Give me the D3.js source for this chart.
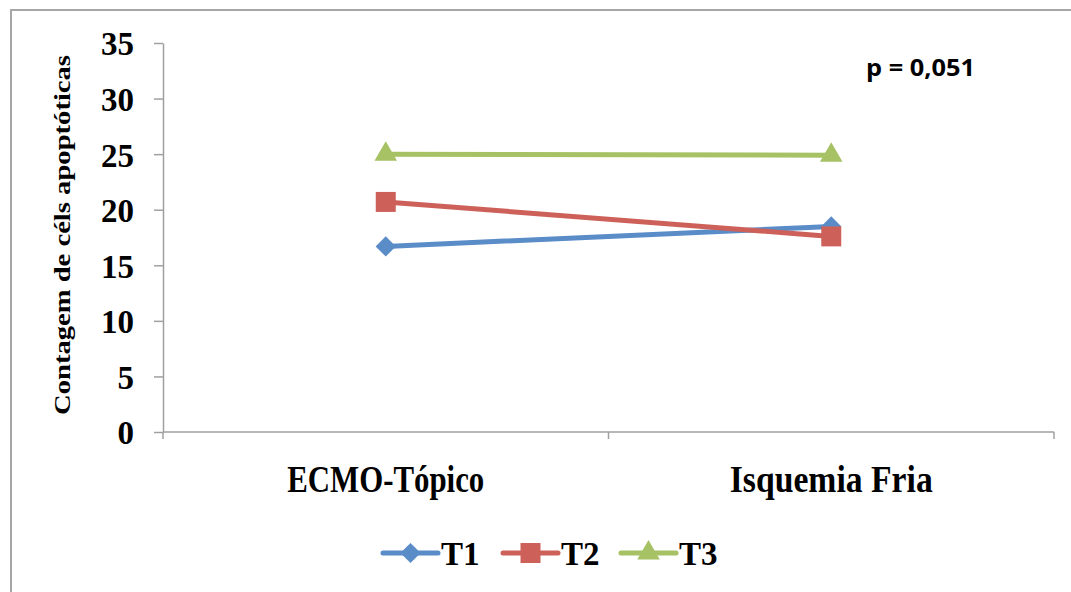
<!DOCTYPE html>
<html>
<head>
<meta charset="utf-8">
<script src="https://cdn.jsdelivr.net/npm/d3@7"></script>
<style>
  body { margin: 0; background: #fff; }
  svg { display: block; }
</style>
</head>
<body>
<svg></svg>
<script>
var categories = ["ECMO-Tópico", "Isquemia Fria"]
var seriesNames = ["T1", "T2", "T3"]
var t1 = [16.7, 18.5]
var t2 = [20.7, 17.6]
var t3 = [25.0, 24.9]
var yTicks = [0, 5, 10, 15, 20, 25, 30, 35]
var colors = ["#5A8CC8", "#CD615A", "#A6C265"]

var width = 1071, height = 592
var margins = {"left": 163, "right": 17, "top": 43, "bottom": 160}

var svg = d3.select("svg").attr("width", width).attr("height", height)

// chart border (cut off on right and bottom like the original)
svg.append("rect")
  .attr("x", 11).attr("y", 10)
  .attr("width", 1100).attr("height", 620)
  .attr("fill", "none").attr("stroke", "#A6A6A6").attr("stroke-width", 2)

var x = d3.scaleBand()
  .domain(categories)
  .range([margins.left, width - margins.right])

var y = d3.scaleLinear()
  .domain([0, 35])
  .range([height - margins.bottom, margins.top])

var font = "'Liberation Serif', 'DejaVu Serif', serif"

// marker shapes: diamond is a rotated square
function marker(k, sel){
  if (k === 0) {
    sel.attr("d", d3.symbol().type(d3.symbolSquare).size(205)())
  } else if (k === 1) {
    sel.attr("d", d3.symbol().type(d3.symbolSquare).size(400)())
  } else {
    sel.attr("d", d3.symbol().type(d3.symbolTriangle).size(220)())
  }
}

// y axis
var yAxis = svg.append("g")
  .attr("transform", "translate(" + margins.left + ",0)")
  .call(d3.axisLeft(y).tickValues(yTicks).tickSize(9).tickSizeOuter(0))
yAxis.select(".domain").attr("stroke", "#A0A0A0").attr("stroke-width", 1.5)
yAxis.selectAll(".tick line").attr("stroke", "#A0A0A0").attr("stroke-width", 1.5)
yAxis.selectAll(".tick text")
  .attr("x", -29)
  .attr("dy", "0.36em")
  .attr("font-family", font).attr("font-weight", "bold")
  .attr("font-size", "33px").attr("fill", "#000")

// x axis
var xAxisG = svg.append("g")
  .attr("transform", "translate(0," + y(0) + ")")
xAxisG.append("line")
  .attr("x1", margins.left).attr("x2", width - margins.right)
  .attr("stroke", "#A0A0A0").attr("stroke-width", 1.5)
var bounds = [margins.left].concat(categories.map(function(c){ return x(c) + x.bandwidth() }))
xAxisG.selectAll(".xtick")
  .data(bounds)
  .enter()
  .append("line")
  .attr("x1", function(d){ return d }).attr("x2", function(d){ return d })
  .attr("y1", 0).attr("y2", 7)
  .attr("stroke", "#A0A0A0").attr("stroke-width", 1.5)
var labelLen = [197, 203]
xAxisG.selectAll(".xlabel")
  .data(categories)
  .enter()
  .append("text")
  .attr("x", function(d){ return x(d) + x.bandwidth() / 2 })
  .attr("y", 60)
  .attr("text-anchor", "middle")
  .attr("font-family", font).attr("font-weight", "bold")
  .attr("font-size", "38px")
  .attr("textLength", function(d, i){ return labelLen[i] })
  .attr("lengthAdjust", "spacingAndGlyphs")
  .text(function(d){ return d })

// y title
svg.append("text")
  .attr("transform", "translate(70,235) rotate(-90)")
  .attr("text-anchor", "middle")
  .attr("font-family", font).attr("font-weight", "bold")
  .attr("font-size", "23px")
  .attr("textLength", 360)
  .attr("lengthAdjust", "spacingAndGlyphs")
  .text("Contagem de céls apoptóticas")

// p value
svg.append("text")
  .attr("x", 866).attr("y", 76)
  .attr("font-family", "'Open Sans', 'DejaVu Sans', sans-serif")
  .attr("font-weight", "bold").attr("font-size", "23px")
  .attr("textLength", 109)
  .attr("lengthAdjust", "spacingAndGlyphs")
  .text("p = 0,051")

var series = [t1, t2, t3]
var line = d3.line()
  .x(function(d, i){ return x(categories[i]) + x.bandwidth() / 2 })
  .y(function(d){ return y(d) })

series.forEach(function(s, k){
  var g = svg.append("g")
  g.append("path")
    .attr("d", line(s))
    .attr("fill", "none")
    .attr("stroke", colors[k])
    .attr("stroke-width", 5)
    .attr("stroke-linecap", "round")
  g.selectAll("path.m")
    .data(s)
    .enter()
    .append("path")
    .attr("class", "m")
    .call(function(sel){ marker(k, sel) })
    .attr("transform", function(d, i){
      return "translate(" + (x(categories[i]) + x.bandwidth() / 2) + "," + y(d) + ") rotate(" + (k === 0 ? 45 : 0) + ")"
    })
    .attr("fill", colors[k])
})

// legend
var legendX = [383, 503, 621]
var legendY = 553
var legend = svg.append("g")
seriesNames.forEach(function(name, k){
  var lg = legend.append("g").attr("transform", "translate(" + legendX[k] + "," + legendY + ")")
  lg.append("line")
    .attr("x1", 0).attr("x2", 55)
    .attr("stroke", colors[k]).attr("stroke-width", 5)
    .attr("stroke-linecap", "round")
  lg.append("path")
    .call(function(sel){ marker(k, sel) })
    .attr("transform", "translate(27.5,0) rotate(" + (k === 0 ? 45 : 0) + ")")
    .attr("fill", colors[k])
  lg.append("text")
    .attr("x", 58).attr("y", 12)
    .attr("font-family", font).attr("font-weight", "bold")
    .attr("font-size", "33px")
    .text(name)
})
</script>
</body>
</html>
